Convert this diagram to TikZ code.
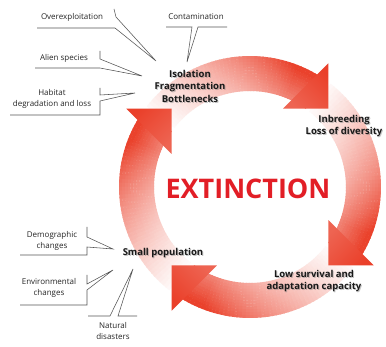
\documentclass[tikz,border=0pt]{standalone}
\usepackage{fontspec}
\setmainfont{Open Sans}
\usetikzlibrary{calc}
\definecolor{arr}{RGB}{234,66,44}
\definecolor{arrhead}{RGB}{234,64,42}
\definecolor{extred}{RGB}{226,30,38}
\definecolor{callline}{RGB}{85,85,85}
\tikzset{
  lab/.style={font=\fontsize{8}{11.5}\selectfont, align=center, inner sep=0pt, text=black!85},
  blab/.style={font=\bfseries\fontsize{9.5}{12.5}\selectfont, align=center, inner sep=0pt, text=black!90},
  callout/.style={draw=callline, line width=0.55pt, line join=miter},
}
\newcommand\shlabel[3]{%
  \node[blab, text=black!50, opacity=0.45, xshift=1pt, yshift=-1.2pt] (#1-sh) at (#2) {#3};
  \node[blab] (#1) at (#2) {#3};}
\begin{document}
\begin{tikzpicture}[x=1pt,y=-1pt]
\useasboundingbox (0,0) rectangle (386,347);
\fill[white] (0,0) rectangle (386,347);
% shafts with gradient along the arc and across the ring
\foreach \t in {135,45,-45,-135}{
  \foreach \i in {0,...,49}{
    \pgfmathsetmacro\a{\t+97-(87*\i/50)}
    \pgfmathsetmacro\b{\t+97-(87*(\i+1)/50)-0.5}
    \pgfmathsetmacro\s{4+96*(min(1,((\i+0.5)/50)/0.85))^1.1}
    \foreach \k in {0,...,11}{
      \pgfmathsetmacro\ra{96+35*\k/12}
      \pgfmathsetmacro\rb{min(\ra+3.2,131)}
      \pgfmathtruncatemacro\p{min(100,\s*(0.66+0.4*(\k+0.5)/12))}
      \fill[arr!\p!white] ({250+\ra*cos(\a)},{187-\ra*sin(\a)}) -- ({250+\rb*cos(\a)},{187-\rb*sin(\a)}) -- ({250+\rb*cos(\b)},{187-\rb*sin(\b)}) -- ({250+\ra*cos(\b)},{187-\ra*sin(\b)}) -- cycle;
    }
  }
}
% heads
\foreach \t in {135,45,-45,-135}{
  \pgfmathsetmacro\tx{250+111*cos(\t)}
  \pgfmathsetmacro\ty{187-111*sin(\t)}
  \pgfmathsetmacro\ox{\tx+32*(cos(\t)-sin(\t))}
  \pgfmathsetmacro\oy{\ty-32*(sin(\t)+cos(\t))}
  \pgfmathsetmacro\ix{\tx-32*(cos(\t)+sin(\t))}
  \pgfmathsetmacro\iy{\ty-32*(cos(\t)-sin(\t))}
  \pgfmathsetmacro\sa{\t-90}
  \shade[top color=arrhead, bottom color=arr!82!white, shading angle=\sa] (\tx,\ty) -- (\ox,\oy) -- (\ix,\iy) -- cycle;
}
% centre text
\node[font=\bfseries\fontsize{27}{30}\selectfont, text=extred, inner sep=0pt] (ext) at (248,189) {EXTINCTION};
% bold labels
\shlabel{iso}{190,86}{Isolation\\Fragmentation\\Bottlenecks}
\shlabel{inb}{344,126}{Inbreeding\\Loss of diversity}
\shlabel{low}{314,281}{Low survival and\\adaptation capacity}
\shlabel{small}{163,253}{Small population}
% small labels
\node[lab] (over) at (72,17) {Overexploitation};
\node[lab] (alien) at (64,58) {Alien species};
\node[lab] (habitat) at (52,99) {Habitat\\degradation and loss};
\node[lab] (contam) at (196,17) {Contamination};
\node[lab] (demo) at (52,241) {Demographic\\changes};
\node[lab] (env) at (49,288) {Environmental\\changes};
\node[lab] (nat) at (113,331) {Natural\\disasters};
% callouts
\draw[callout] (114,9) -- (116,17) -- (156,61) -- (115,28) -- (37,28);
\draw[callout] (100,51) -- (100,59) -- (142,76) -- (100,68) -- (35,68);
\draw[callout] (100,88) -- (100,95) -- (135,93) -- (100,101) -- (100,115) -- (10,115);
\draw[callout] (166,27) -- (192,27) -- (187,62) -- (198,27) -- (227,27);
\draw[callout] (87,227) -- (87,237) -- (113,249) -- (87,247) -- (87,255) -- (20,255);
\draw[callout] (87,275) -- (87,284) -- (113,270) -- (87,290) -- (87,305) -- (20,305);
\draw[callout] (88,316) -- (110,316) -- (133,269) -- (118,316) -- (137,316);
\end{tikzpicture}
\end{document}
